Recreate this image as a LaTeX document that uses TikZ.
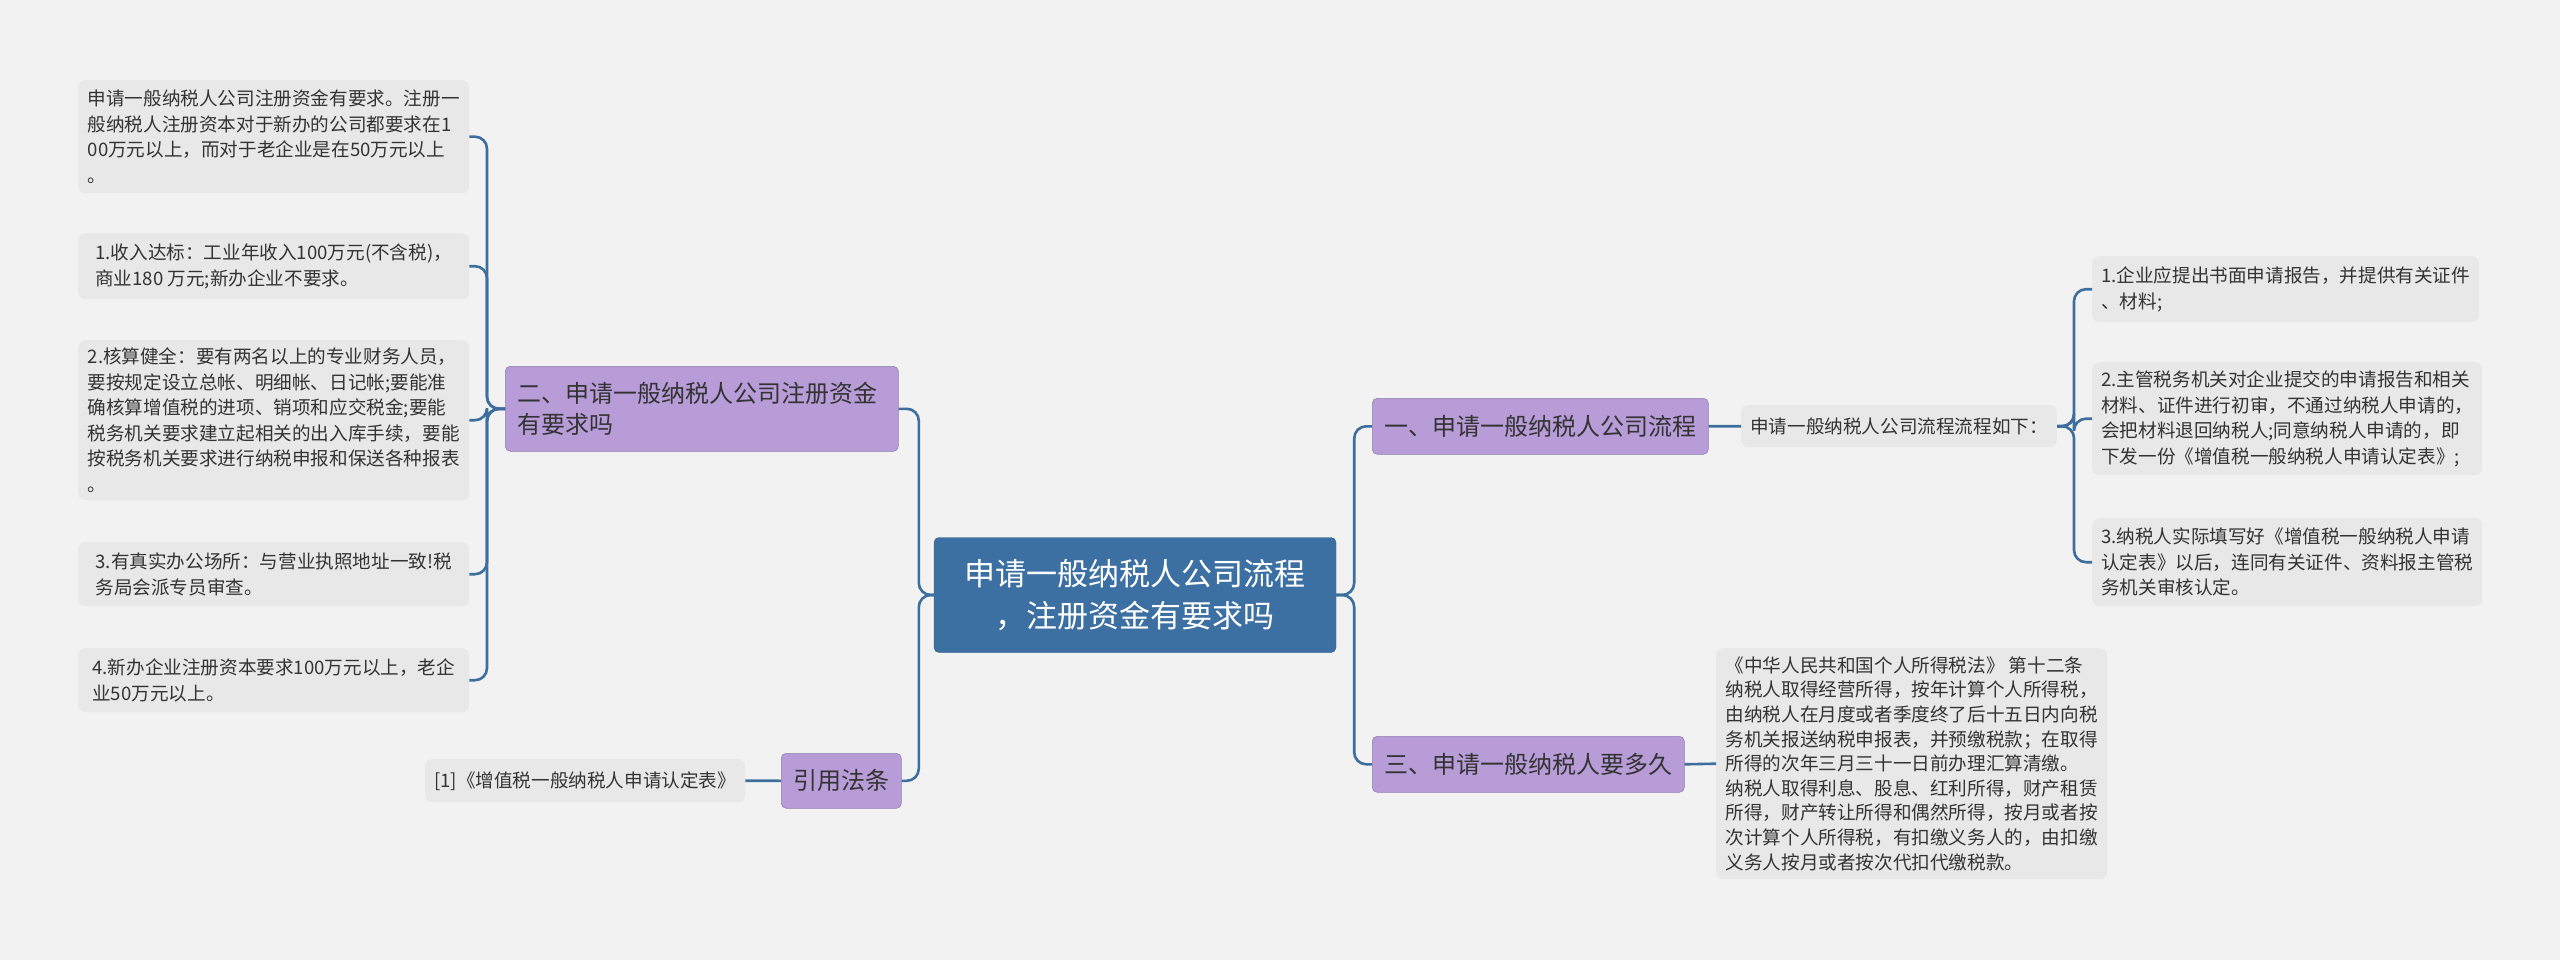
\documentclass[tikz,border=0pt]{standalone}
\usepackage{fontspec}
\setmainfont{Noto Sans CJK SC}
\usetikzlibrary{calc}
\definecolor{bg}{HTML}{F2F2F2}
\definecolor{leaf}{HTML}{E8E8E8}
\definecolor{pur}{HTML}{B89CD8}
\definecolor{ctr}{HTML}{3D70A2}
\definecolor{lnk}{HTML}{3D6E9E}
\definecolor{txt}{HTML}{333333}
\begin{document}
\begin{tikzpicture}[x=1pt,y=-1pt,
  leafbox/.style={fill=leaf,rounded corners=7pt,align=left,text=txt,inner xsep=9pt,inner ysep=6pt,font=\fontsize{18.6}{25.5}\selectfont,anchor=north west},
  l1box/.style={fill=pur,draw=pur!80!black,line width=0.6pt,rounded corners=5pt,align=left,text=txt,inner xsep=12pt,inner ysep=6pt,font=\fontsize{24}{31}\selectfont,anchor=north west},
  link/.style={draw=lnk,line width=2.6pt,rounded corners=12pt}]
\fill[bg] (0,0) rectangle (2560,960);
\useasboundingbox (0,0) rectangle (2560,960);
% center
\node[fill=ctr,draw=ctr!80!black,rounded corners=5pt,text=white,align=center,minimum width=402pt,minimum height=115pt,font=\fontsize{31}{42}\selectfont] (c) at (1135,595) {申请一般纳税人公司流程\\，注册资金有要求吗};
% level 1
\node[l1box,minimum width=393pt,minimum height=85pt,text width=369pt] (L2) at (505,366) {二、申请一般纳税人公司注册资金\\有要求吗};
\node[l1box,minimum width=117pt,minimum height=55pt,align=center] (ref) at (781,753) {引用法条};
\node[l1box,minimum width=333pt,minimum height=56pt] (R1) at (1372,398) {一、申请一般纳税人公司流程};
\node[l1box,minimum width=310pt,minimum height=56pt] (R3) at (1372,736) {三、申请一般纳税人要多久};
% left leaves
\node[leafbox,minimum width=391pt,minimum height=113pt] (a1) at (78,80) {申请一般纳税人公司注册资金有要求。注册一\\般纳税人注册资本对于新办的公司都要求在1\\00万元以上，而对于老企业是在50万元以上\\。};
\node[leafbox,minimum width=391pt,minimum height=66pt] (a2) at (78,233) {1.收入达标：工业年收入100万元(不含税)，\\商业180 万元;新办企业不要求。};
\node[leafbox,minimum width=391pt,minimum height=160pt] (a3) at (78,340) {2.核算健全：要有两名以上的专业财务人员，\\要按规定设立总帐、明细帐、日记帐;要能准\\确核算增值税的进项、销项和应交税金;要能\\税务机关要求建立起相关的出入库手续，要能\\按税务机关要求进行纳税申报和保送各种报表\\。};
\node[leafbox,minimum width=391pt,minimum height=64pt] (a4) at (78,542) {3.有真实办公场所：与营业执照地址一致!税\\务局会派专员审查。};
\node[leafbox,minimum width=391pt,minimum height=64pt] (a5) at (78,648) {4.新办企业注册资本要求100万元以上，老企\\业50万元以上。};
\node[leafbox,minimum width=318pt,minimum height=43pt,font=\fontsize{18.6}{24}\selectfont] (rf) at (425,759) {[1]《增值税一般纳税人申请认定表》};
% right leaves
\node[leafbox,minimum width=313pt,minimum height=42pt] (p) at (1741,405) {申请一般纳税人公司流程流程如下：};
\node[leafbox,minimum width=387pt,minimum height=66pt] (r1) at (2092,256) {1.企业应提出书面申请报告，并提供有关证件\\、材料;};
\node[leafbox,minimum width=387pt,minimum height=113pt] (r2) at (2092,362) {2.主管税务机关对企业提交的申请报告和相关\\材料、证件进行初审，不通过纳税人申请的，\\会把材料退回纳税人;同意纳税人申请的，即\\下发一份《增值税一般纳税人申请认定表》;};
\node[leafbox,minimum width=387pt,minimum height=88pt] (r3) at (2092,518) {3.纳税人实际填写好《增值税一般纳税人申请\\认定表》以后，连同有关证件、资料报主管税\\务机关审核认定。};
\node[leafbox,minimum width=391pt,minimum height=231pt,font=\fontsize{18.6}{24.6}\selectfont] (law) at (1716,648) {《中华人民共和国个人所得税法》 第十二条\\纳税人取得经营所得，按年计算个人所得税，\\由纳税人在月度或者季度终了后十五日内向税\\务机关报送纳税申报表，并预缴税款；在取得\\所得的次年三月三十一日前办理汇算清缴。\\纳税人取得利息、股息、红利所得，财产租赁\\所得，财产转让所得和偶然所得，按月或者按\\次计算个人所得税，有扣缴义务人的，由扣缴\\义务人按月或者按次代扣代缴税款。};
% connectors
\foreach \t in {L2,ref}{\draw[link] (c.west) -- ++(-15,0) |- (\t.east);}
\foreach \t in {R1,R3}{\draw[link] (c.east) -- ++(18,0) |- (\t.west);}
\foreach \t in {a1,a2,a3,a4,a5}{\draw[link] (L2.west) -- ++(-18,0) |- (\t.east);}
\draw[link] (ref.west) -- (rf.east);
\draw[link] (R1.east) -- (p.west);
\foreach \t in {r1,r2,r3}{\draw[link] (p.east) -- ++(17,0) |- (\t.west);}
\draw[link] (R3.east) -- (law.west);
\end{tikzpicture}
\end{document}
